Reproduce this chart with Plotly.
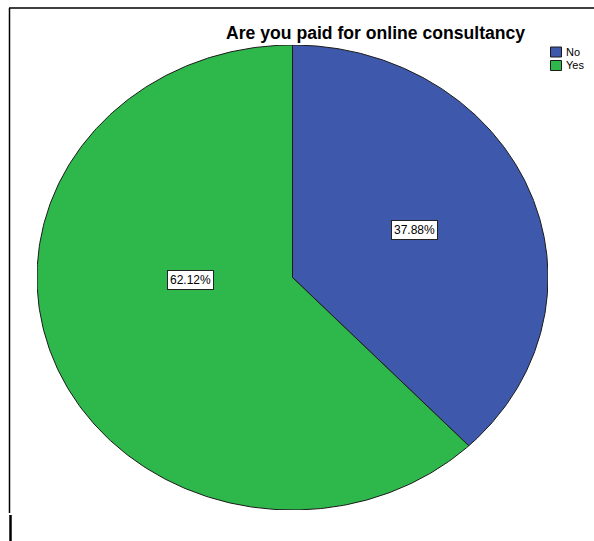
import numpy as np
import plotly.graph_objects as go

# Survey answers and their shares (percent)
categories = ["No", "Yes"]
percentages = [37.88, 62.12]
colors = ["#3E58AC", "#2EB84B"]
title_text = "Are you paid for online consultancy"

W, H = 594, 541
FONT = "Liberation Sans, Arial, sans-serif"

fig = go.Figure()

# Slices drawn clockwise from 12 o'clock on a unit circle; the axes are not
# scale-anchored, so the circle renders as a wide ellipse.
start = 0.0
for cat, pct, col in zip(categories, percentages, colors):
    sweep = pct / 100.0 * 2 * np.pi
    th = np.linspace(start, start + sweep, 300)
    xs = np.concatenate([[0.0], np.sin(th), [0.0]])
    ys = np.concatenate([[0.0], np.cos(th), [0.0]])
    fig.add_trace(go.Scatter(
        x=xs, y=ys, mode="lines", fill="toself", fillcolor=col,
        line=dict(color="#1a1a1a", width=1), showlegend=False,
        name=cat, hoverinfo="skip",
    ))
    start += sweep

# Percentage labels in boxes
label_pos = {"No": (0.479, 0.204), "Yes": (-0.401, -0.011)}
for cat, pct in zip(categories, percentages):
    lx, ly = label_pos[cat]
    fig.add_annotation(
        x=lx, y=ly, xref="x", yref="y", text=f"{pct:.2f}%", showarrow=False,
        font=dict(family=FONT, size=12, color="#000"),
        bgcolor="white", bordercolor="#222", borderwidth=1, borderpad=2,
    )

# Title
fig.add_annotation(
    x=375.5 / W, y=1 - 33 / H, xref="paper", yref="paper",
    text=f"<b>{title_text}</b>", showarrow=False,
    xanchor="center", yanchor="middle",
    font=dict(family=FONT, size=17.6, color="#000"),
)

# Legend: small swatches with category names, top right
for i, (cat, col) in enumerate(zip(categories, colors)):
    top = 47 + i * 13.5
    fig.add_shape(type="rect", xref="paper", yref="paper",
                  x0=550.5 / W, x1=561.5 / W,
                  y0=1 - (top + 10) / H, y1=1 - top / H,
                  fillcolor=col, line=dict(color="#1a1a1a", width=1))
    fig.add_annotation(x=563.5 / W, y=1 - (top + 5) / H, xref="paper",
                       yref="paper", text=cat, showarrow=False,
                       xanchor="left", yanchor="middle",
                       font=dict(family=FONT, size=11, color="#000"))

# Frame lines
line_style = dict(color="black", width=1.5)
fig.add_shape(type="line", xref="paper", yref="paper",
              x0=9 / W, x1=1, y0=1 - 8 / H, y1=1 - 8 / H, line=line_style)
fig.add_shape(type="line", xref="paper", yref="paper",
              x0=9.5 / W, x1=9.5 / W, y0=1 - 8 / H, y1=1 - 513 / H, line=line_style)
fig.add_shape(type="line", xref="paper", yref="paper",
              x0=10.5 / W, x1=10.5 / W, y0=1 - 515 / H, y1=0,
              line=dict(color="black", width=2.5))

fig.update_layout(
    width=W, height=H,
    margin=dict(l=0, r=0, t=0, b=0),
    paper_bgcolor="white", plot_bgcolor="white",
    xaxis=dict(range=[-1, 1], domain=[37 / W, 548 / W], visible=False,
               fixedrange=True),
    yaxis=dict(range=[-1, 1], domain=[1 - 510 / H, 1 - 45 / H], visible=False,
               fixedrange=True),
    showlegend=False,
)

fig.write_html("out.html")
